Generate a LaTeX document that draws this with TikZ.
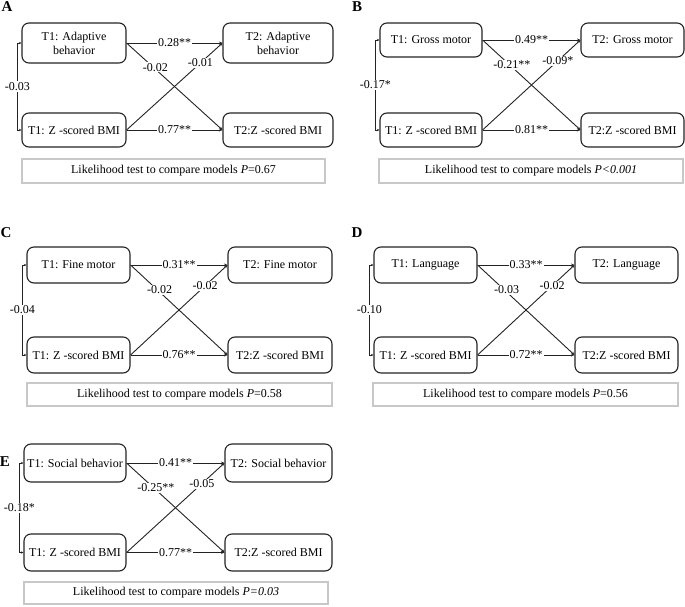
\documentclass[tikz,border=0pt]{standalone}
\usepackage{fontspec}
\setmainfont{Liberation Serif}
\usetikzlibrary{arrows.meta}
\definecolor{boxgray}{RGB}{200,200,200}
\definecolor{ink}{RGB}{35,35,35}
\tikzset{
  var/.style={draw=ink, rounded corners=7pt, line width=1.1pt, align=center, inner sep=0pt, font=\fontsize{12}{14}\selectfont},
  lik/.style={draw=boxgray, line width=1.1pt, fill=white, inner sep=0pt, font=\fontsize{12}{14}\selectfont},
  conn/.style={draw=ink, line width=0.9pt, -{Stealth[length=3.5pt,width=3pt]}},
  both/.style={draw=ink, line width=0.9pt, {Stealth[length=2.5pt,width=2.5pt]}-{Stealth[length=2.5pt,width=2.5pt]}},
  coef/.style={fill=white, inner sep=1pt, font=\fontsize{12}{14}\selectfont},
  letter/.style={font=\fontsize{15}{15}\selectfont\bfseries, inner sep=0pt},
}
\begin{document}
\begin{tikzpicture}[x=1pt,y=-1pt]
\useasboundingbox (0,0) rectangle (685,607);

% ---------- Panel A ----------
\node[letter] (la) at (7,7) {A};
\node[var, minimum width=104pt, minimum height=40pt] (a1) at (74,43) {T1: Adaptive\\behavior};
\node[var, minimum width=110pt, minimum height=40pt] (a2) at (278,43) {T2: Adaptive\\behavior};
\node[var, minimum width=104pt, minimum height=34pt] (a3) at (74,130) {T1: Z -scored BMI};
\node[var, minimum width=110pt, minimum height=34pt] (a4) at (278,130) {T2:Z -scored BMI};
\node[lik, minimum width=303pt, minimum height=24pt] (aL) at (173.5,171) {Likelihood test to compare models \textit{P}=0.67};
\draw[conn] (a1.east) -- node[coef,pos=0.3,yshift=2pt]{-0.02} (a4.west);
\draw[conn] (a3.east) -- node[coef,pos=0.77]{-0.01} (a2.west);
\draw[conn] (a1.east) -- node[coef]{0.28**} (a2.west);
\draw[conn] (a3.east) -- node[coef]{0.77**} (a4.west);
\draw[both] (a1.west) -- ++(-4,0) |- node[coef,pos=0.25]{-0.03} (a3.west);

% ---------- Panel B ----------
\node[letter] (lb) at (357,7) {B};
\node[var, minimum width=102pt, minimum height=34pt] (b1) at (431,40) {T1: Gross motor};
\node[var, minimum width=103pt, minimum height=34pt] (b2) at (632.5,40) {T2: Gross motor};
\node[var, minimum width=102pt, minimum height=34pt] (b3) at (431,130) {T1: Z -scored BMI};
\node[var, minimum width=103pt, minimum height=34pt] (b4) at (632.5,130) {T2:Z -scored BMI};
\node[lik, minimum width=304pt, minimum height=24pt] (bL) at (531,171) {Likelihood test to compare models \textit{P<0.001}};
\draw[conn] (b1.east) -- node[coef,pos=0.3,yshift=2pt]{-0.21**} (b4.west);
\draw[conn] (b3.east) -- node[coef,pos=0.77]{-0.09*} (b2.west);
\draw[conn] (b1.east) -- node[coef]{0.49**} (b2.west);
\draw[conn] (b3.east) -- node[coef]{0.81**} (b4.west);
\draw[both] (b1.west) -- ++(-4,0) |- node[coef,pos=0.25]{-0.17*} (b3.west);

% ---------- Panel C ----------
\node[letter] (lc) at (6,233) {C};
\node[var, minimum width=103pt, minimum height=36pt] (c1) at (78.5,265) {T1: Fine motor};
\node[var, minimum width=104pt, minimum height=36pt] (c2) at (280,265) {T2: Fine motor};
\node[var, minimum width=103pt, minimum height=36pt] (c3) at (78.5,355) {T1: Z -scored BMI};
\node[var, minimum width=104pt, minimum height=36pt] (c4) at (280,355) {T2:Z -scored BMI};
\node[lik, minimum width=305pt, minimum height=23pt] (cL) at (179.5,394.5) {Likelihood test to compare models \textit{P}=0.58};
\draw[conn] (c1.east) -- node[coef,pos=0.3,yshift=2pt]{-0.02} (c4.west);
\draw[conn] (c3.east) -- node[coef,pos=0.77]{-0.02} (c2.west);
\draw[conn] (c1.east) -- node[coef]{0.31**} (c2.west);
\draw[conn] (c3.east) -- node[coef]{0.76**} (c4.west);
\draw[both] (c1.west) -- ++(-4,0) |- node[coef,pos=0.25]{-0.04} (c3.west);

% ---------- Panel D ----------
\node[letter] (ld) at (357,233) {D};
\node[var, minimum width=103pt, minimum height=36pt] (d1) at (425.5,265) {T1: Language};
\node[var, minimum width=103pt, minimum height=36pt] (d2) at (626.5,265) {T2: Language};
\node[var, minimum width=103pt, minimum height=36pt] (d3) at (425.5,355) {T1: Z -scored BMI};
\node[var, minimum width=103pt, minimum height=36pt] (d4) at (626.5,355) {T2:Z -scored BMI};
\node[lik, minimum width=305pt, minimum height=23pt] (dL) at (525.5,394.5) {Likelihood test to compare models \textit{P}=0.56};
\draw[conn] (d1.east) -- node[coef,pos=0.3,yshift=2pt]{-0.03} (d4.west);
\draw[conn] (d3.east) -- node[coef,pos=0.77]{-0.02} (d2.west);
\draw[conn] (d1.east) -- node[coef]{0.33**} (d2.west);
\draw[conn] (d3.east) -- node[coef]{0.72**} (d4.west);
\draw[both] (d1.west) -- ++(-4,0) |- node[coef,pos=0.25]{-0.10} (d3.west);

% ---------- Panel E ----------
\node[letter] (le) at (5,462) {E};
\node[var, minimum width=102pt, minimum height=38pt] (e1) at (75,463) {T1: Social behavior};
\node[var, minimum width=107pt, minimum height=38pt] (e2) at (278.5,463) {T2: Social behavior};
\node[var, minimum width=102pt, minimum height=37pt] (e3) at (75,552.5) {T1: Z -scored BMI};
\node[var, minimum width=107pt, minimum height=37pt] (e4) at (278.5,552.5) {T2:Z -scored BMI};
\node[lik, minimum width=304pt, minimum height=22pt] (eL) at (176,593) {Likelihood test to compare models \textit{P=0.03}};
\draw[conn] (e1.east) -- node[coef,pos=0.3,yshift=2pt]{-0.25**} (e4.west);
\draw[conn] (e3.east) -- node[coef,pos=0.77]{-0.05} (e2.west);
\draw[conn] (e1.east) -- node[coef]{0.41**} (e2.west);
\draw[conn] (e3.east) -- node[coef]{0.77**} (e4.west);
\draw[both] (e1.west) -- ++(-4,0) |- node[coef,pos=0.25]{-0.18*} (e3.west);
\end{tikzpicture}
\end{document}
